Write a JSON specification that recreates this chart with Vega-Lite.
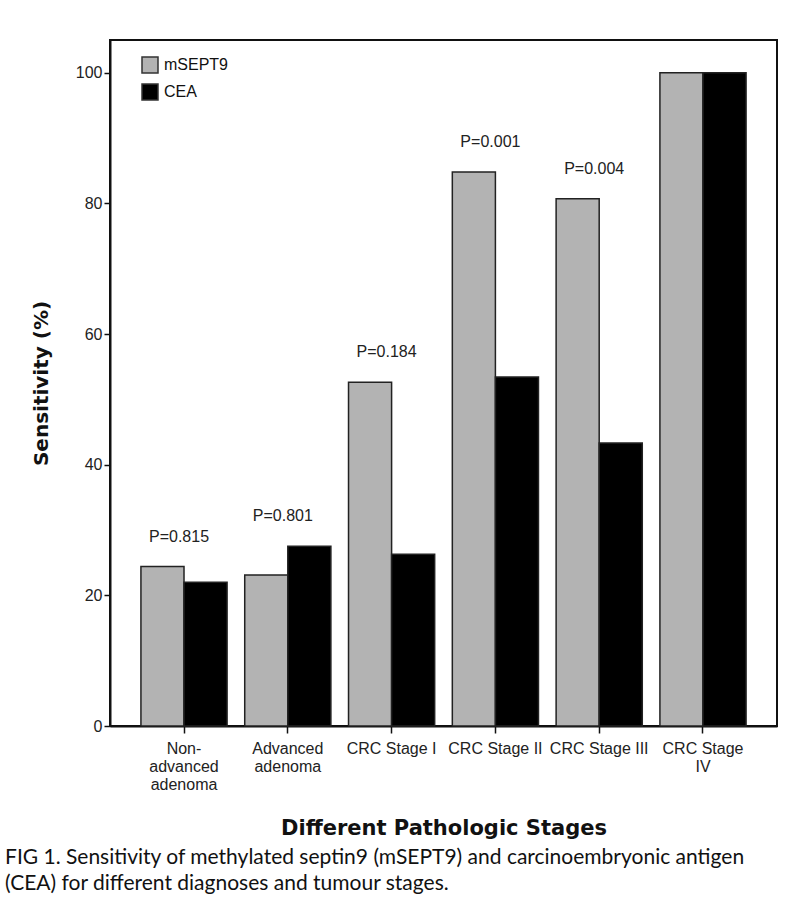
{
  "$schema": "https://vega.github.io/schema/vega-lite/v6.json",
  "width": 667,
  "height": 686,
  "autosize": {"type": "none"},
  "padding": {"left": 110, "top": 40, "right": 10, "bottom": 180},
  "background": "white",
  "config": {
    "view": {"stroke": "#111", "strokeWidth": 2},
    "font": "Liberation Sans"
  },
  "title": {
    "text": ["FIG 1. Sensitivity of methylated septin9 (mSEPT9) and carcinoembryonic antigen", "(CEA) for different diagnoses and tumour stages."],
    "orient": "bottom",
    "anchor": "start",
    "frame": "group",
    "dx": -105,
    "offset": 9,
    "font": "Lato",
    "fontSize": 21,
    "fontWeight": "normal",
    "lineHeight": 26,
    "color": "#111"
  },
  "data": {
    "values": [
      {"stage": "Non-|advanced|adenoma", "marker": "mSEPT9", "value": 24.4, "p": "P=0.815"},
      {"stage": "Non-|advanced|adenoma", "marker": "CEA", "value": 22.0, "p": "P=0.815"},
      {"stage": "Advanced|adenoma", "marker": "mSEPT9", "value": 23.1, "p": "P=0.801"},
      {"stage": "Advanced|adenoma", "marker": "CEA", "value": 27.5, "p": "P=0.801"},
      {"stage": "CRC Stage I", "marker": "mSEPT9", "value": 52.6, "p": "P=0.184"},
      {"stage": "CRC Stage I", "marker": "CEA", "value": 26.3, "p": "P=0.184"},
      {"stage": "CRC Stage II", "marker": "mSEPT9", "value": 84.8, "p": "P=0.001"},
      {"stage": "CRC Stage II", "marker": "CEA", "value": 53.4, "p": "P=0.001"},
      {"stage": "CRC Stage III", "marker": "mSEPT9", "value": 80.7, "p": "P=0.004"},
      {"stage": "CRC Stage III", "marker": "CEA", "value": 43.3, "p": "P=0.004"},
      {"stage": "CRC Stage|IV", "marker": "mSEPT9", "value": 100, "p": ""},
      {"stage": "CRC Stage|IV", "marker": "CEA", "value": 100, "p": ""}
    ]
  },
  "encoding": {
    "x": {
      "field": "stage",
      "type": "nominal",
      "sort": ["Non-|advanced|adenoma", "Advanced|adenoma", "CRC Stage I", "CRC Stage II", "CRC Stage III", "CRC Stage|IV"],
      "scale": {"paddingInner": 0.17, "paddingOuter": 0.298},
      "axis": {
        "title": "Different Pathologic Stages",
        "titleFont": "DejaVu Sans",
        "titleFontSize": 21,
        "titleFontWeight": "bold",
        "titleColor": "#111",
        "titleY": 108,
        "titleBaseline": "alphabetic",
        "labelAngle": 0,
        "labelExpr": "split(datum.label, '|')",
        "labelFontSize": 16,
        "labelLineHeight": 18,
        "labelColor": "#222",
        "labelPadding": 7,
        "tickSize": 7,
        "tickColor": "#111",
        "tickWidth": 1.5,
        "domainColor": "#111",
        "domainWidth": 2
      }
    }
  },
  "layer": [
    {
      "mark": {"type": "bar", "stroke": "#222", "strokeWidth": 1.5},
      "encoding": {
        "xOffset": {"field": "marker", "type": "nominal", "sort": ["mSEPT9", "CEA"], "scale": {"paddingInner": 0, "paddingOuter": 0}},
        "y": {
          "field": "value",
          "type": "quantitative",
          "scale": {"domain": [0, 105], "nice": false},
          "axis": {
            "title": "Sensitivity (%)",
            "titleFont": "DejaVu Sans",
            "titleFontSize": 20,
            "titleFontWeight": "bold",
            "titleColor": "#111",
            "titlePadding": 24,
            "values": [0, 20, 40, 60, 80, 100],
            "grid": false,
            "labelFontSize": 16,
            "labelColor": "#222",
            "labelPadding": 2,
            "tickSize": 6,
            "tickColor": "#111",
            "tickWidth": 1.5,
            "domainColor": "#111",
            "domainWidth": 2
          }
        },
        "fill": {
          "field": "marker",
          "type": "nominal",
          "sort": ["mSEPT9", "CEA"],
          "scale": {"domain": ["mSEPT9", "CEA"], "range": ["#b3b3b3", "#000000"]},
          "legend": {
            "title": null,
            "orient": "none",
            "legendX": 31,
            "legendY": 16,
            "symbolType": "square",
            "symbolSize": 256,
            "symbolStrokeColor": "#333",
            "symbolStrokeWidth": 1.5,
            "labelFontSize": 16,
            "labelColor": "#111",
            "labelOffset": 5,
            "rowPadding": 5
          }
        }
      }
    },
    {
      "transform": [
        {"filter": "datum.p != ''"},
        {"aggregate": [{"op": "max", "field": "value", "as": "top"}], "groupby": ["stage", "p"]}
      ],
      "mark": {"type": "text", "dy": -30, "dx": -5, "fontSize": 16, "color": "#222", "baseline": "middle"},
      "encoding": {
        "y": {"field": "top", "type": "quantitative"},
        "text": {"field": "p", "type": "nominal"}
      }
    }
  ]
}
